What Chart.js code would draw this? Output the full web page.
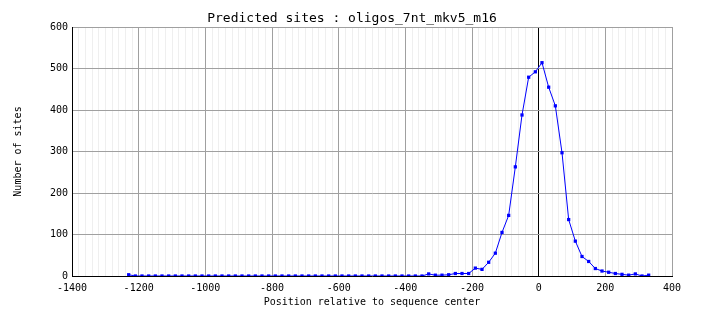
<!DOCTYPE html>
<html>
<head>
<meta charset="utf-8">
<script src="https://cdn.jsdelivr.net/npm/chart.js@4/dist/chart.umd.min.js"></script>
<style>
  html, body { margin: 0; padding: 0; background: #fff; }
  #chart { display: block; }
</style>
</head>
<body>
<canvas id="chart" width="704" height="328"></canvas>
<script>
const positions = [
  -1230, -1210, -1190, -1170, -1150, -1130, -1110, -1090, -1070, -1050,
  -1030, -1010, -990, -970, -950, -930, -910, -890, -870, -850,
  -830, -810, -790, -770, -750, -730, -710, -690, -670, -650,
  -630, -610, -590, -570, -550, -530, -510, -490, -470, -450,
  -430, -410, -390, -370, -350, -330, -310, -290, -270, -250,
  -230, -210, -190, -170, -150, -130, -110, -90, -70, -50,
  -30, -10, 10, 30, 50, 70, 90, 110, 130, 150,
  170, 190, 210, 230, 250, 270, 290, 310, 330
];
const sites = [
  3, 0, 0, 0, 0, 0, 0, 0, 0, 0,
  0, 0, 0, 0, 0, 0, 0, 0, 0, 0,
  0, 0, 0, 0, 0, 0, 0, 0, 0, 0,
  0, 0, 0, 0, 0, 0, 0, 0, 0, 0,
  0, 0, 0, 0, 0, 5, 2, 2, 3, 6,
  6, 6, 19, 16, 33, 55, 105, 146, 263, 388,
  479, 492, 514, 455, 410, 297, 136, 84, 47, 35,
  18, 12, 9, 6, 4, 2, 5, 0, 2
];
const xTicks = [-1400, -1200, -1000, -800, -600, -400, -200, 0, 200, 400];
const yTicks = [0, 100, 200, 300, 400, 500, 600];

const mono = "'DejaVu Sans Mono', monospace";

function gridColor(ctx) {
  const v = ctx.tick.value;
  if (v === 0) return "#000000";
  if (xTicks.includes(v)) return "#a0a0a0";
  return "#efefef";
}

new Chart(document.getElementById("chart"), {
  type: "line",
  data: {
    datasets: [{
      label: "Number of sites",
      data: positions.map((p, i) => ({x: p, y: sites[i]})),
      borderColor: "#0000ff",
      backgroundColor: "#0000ff",
      borderWidth: 1,
      pointStyle: "rect",
      pointRadius: 2.3,
      pointBorderWidth: 0,
      tension: 0
    }]
  },
  options: {
    responsive: false,
    animation: false,
    layout: {padding: 0},
    plugins: {
      legend: {display: false},
      tooltip: {enabled: false},
      title: {
        display: true,
        text: "Predicted sites : oligos_7nt_mkv5_m16",
        color: "#000",
        font: {family: mono, size: 13, weight: "normal", lineHeight: "16px"},
        padding: {top: 11, bottom: 0}
      }
    },
    scales: {
      x: {
        type: "linear",
        min: -1400,
        max: 400,
        afterFit: s => { s.height = 52; },
        afterBuildTicks: s => {
          const t = [];
          for (let v = -1400; v <= 400; v += 20) t.push({value: v});
          s.ticks = t;
        },
        ticks: {
          autoSkip: false,
          maxRotation: 0,
          color: "#000",
          padding: 6,
          font: {family: mono, size: 10},
          callback: v => xTicks.includes(v) ? String(v) : ""
        },
        grid: {color: gridColor, drawTicks: false, lineWidth: 1},
        border: {color: "#000", width: 1},
        title: {
          display: true,
          text: "Position relative to sequence center",
          color: "#000",
          font: {family: mono, size: 10},
          padding: {top: 0, bottom: 20}
        }
      },
      y: {
        min: 0,
        max: 600,
        afterFit: s => { s.width = 72; },
        afterBuildTicks: s => { s.ticks = yTicks.map(v => ({value: v})); },
        ticks: {
          color: "#000",
          padding: 4,
          font: {family: mono, size: 10}
        },
        grid: {color: "#a0a0a0", drawTicks: false, lineWidth: 1},
        border: {color: "#000", width: 1},
        title: {
          display: true,
          text: "Number of sites",
          color: "#000",
          font: {family: mono, size: 10},
          padding: {top: 12, bottom: 0}
        }
      },
      // empty right-hand margin so the title stays centred on the canvas
      yRight: {
        position: "right",
        min: 0,
        max: 600,
        afterFit: s => { s.width = 32; },
        ticks: {display: false},
        grid: {display: false, drawTicks: false},
        border: {display: false}
      }
    }
  }
});
</script>
</body>
</html>
